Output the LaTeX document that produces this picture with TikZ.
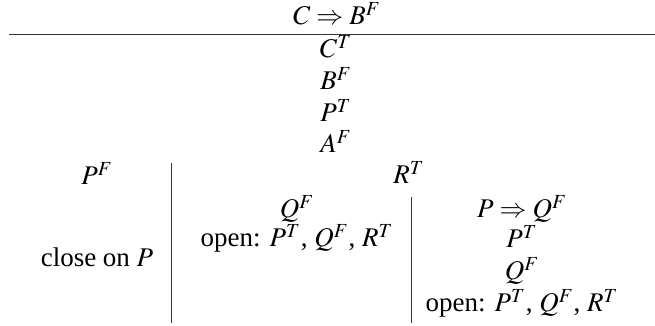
\documentclass[tikz,border=0pt]{standalone}
\usepackage{mathptmx}
\usepackage{fontspec}
\setmainfont{Liberation Serif}
\usetikzlibrary{positioning}

\begin{document}
\begin{tikzpicture}[
  x=0.5pt,y=-0.5pt,
  font=\fontsize{13.5}{16}\selectfont,
  lbl/.style={anchor=base,inner sep=0pt},
  rule/.style={line width=0.5pt,black!80}
]
\useasboundingbox (0,0) rectangle (655,326);
% trunk
\node[lbl] (goal) at (337,25) {$C \Rightarrow B^F$};
\node[lbl] (ct) at (336,58) {$C^T$};
\node[lbl] (bf) at (336,90) {$B^F$};
\node[lbl] (pt) at (336,122) {$P^T$};
\node[lbl] (af) at (336,153) {$A^F$};
\draw[rule] (9,35) -- (655,35);
% left branch
\node[lbl] (pf) at (97,185) {$P^F$};
\node[lbl] (closep) at (97,267) {close on $P$};
\draw[rule] (171,163) -- (171,323);
% right branch
\node[lbl] (rt) at (409,184) {$R^T$};
\node[lbl] (qf) at (297,218) {$Q^F$};
\node[lbl] (openl) at (297,247) {open: $P^T$, $Q^F$, $R^T$};
\draw[rule] (411,197) -- (411,323);
\node[lbl] (pq) at (522,218) {$P \Rightarrow Q^F$};
\node[lbl] (ptr) at (522,248) {$P^T$};
\node[lbl] (qfr) at (522,280) {$Q^F$};
\node[lbl] (openr) at (522,312) {open: $P^T$, $Q^F$, $R^T$};
\end{tikzpicture}
\end{document}
